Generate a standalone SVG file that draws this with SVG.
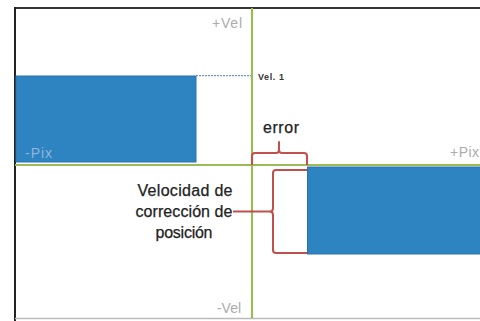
<svg xmlns="http://www.w3.org/2000/svg" width="480" height="321" viewBox="0 0 480 321">
<style>
.bar{fill:#2e83c1;stroke:#2a72ae;stroke-width:1}
.axis{stroke:#9bbb59;stroke-width:2.2;fill:none}
.brace{stroke:#c0504d;stroke-width:2;fill:none;stroke-linejoin:round}
.lbl{font-family:"Liberation Sans",Arial,sans-serif;fill:#ababab;font-size:14px}
.txt{font-family:"Liberation Sans",Arial,sans-serif;fill:#222222;font-size:16px;stroke:#222222;stroke-width:0.25}
</style>
<rect x="0" y="0" width="480" height="321" fill="#ffffff"/>
<g id="frame">
<line x1="14" y1="8" x2="480" y2="8" stroke="#333333" stroke-width="2"/>
<line x1="15" y1="7" x2="15" y2="321" stroke="#222222" stroke-width="2"/>
<line x1="15" y1="318.5" x2="480" y2="318.5" stroke="#bbbbbb" stroke-width="1.5"/>
</g>
<g id="bar-left"><rect class="bar" x="16" y="76" width="180" height="86"/></g>
<g id="bar-right"><rect class="bar" x="307.5" y="167" width="173" height="87"/></g>
<g id="connectors">
<line x1="196" y1="75.7" x2="251" y2="75.7" stroke="#4f78c4" stroke-width="1" stroke-dasharray="2,1"/>
<line class="axis" x1="15" y1="165" x2="480" y2="165"/>
<line class="axis" x1="252" y1="8" x2="252" y2="318"/>
<path class="brace" d="M252,165 V156 Q252,153 255,153 H276 Q279,153 279,150 V142 V150 Q279,153 282,153 H304 Q307,153 307,156 V165"/>
<path class="brace" d="M307,170 H276 Q273,170 273,173 V208 Q273,211.5 270,211.5 H233 M270,211.5 Q273,211.5 273,215 V250 Q273,253 276,253 H307"/>
</g>
<g id="labels">
<text class="lbl" x="212" y="28" textLength="30">+Vel</text>
<text class="lbl" x="217" y="313" textLength="24">-Vel</text>
<text class="lbl" x="450" y="157" textLength="29">+Pix</text>
<text class="lbl" x="25" y="158" textLength="27" style="fill:#8fb6d9">-Pix</text>
<text x="258" y="79.5" font-family="Liberation Sans,Arial,sans-serif" font-size="9" font-weight="bold" fill="#333333" textLength="26">Vel. 1</text>
<text class="txt" x="263" y="133" textLength="36">error</text>
<g id="node-velocidad">
<text class="txt" x="185" y="196" text-anchor="middle" textLength="95">Velocidad de</text>
<text class="txt" x="184" y="217" text-anchor="middle" textLength="97">corrección de</text>
<text class="txt" x="184" y="238" text-anchor="middle" textLength="57">posición</text>
</g>
</g>
</svg>
